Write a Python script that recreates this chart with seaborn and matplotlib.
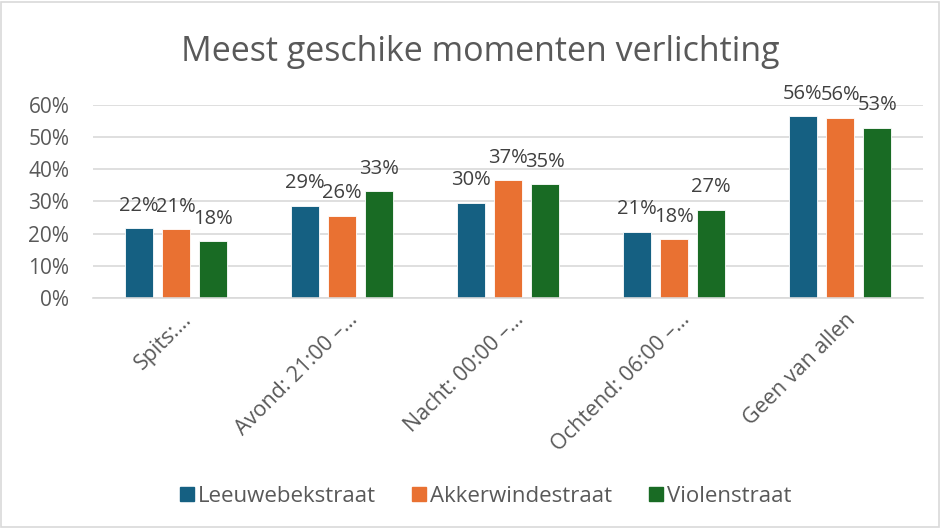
import matplotlib
matplotlib.use("Agg")
from matplotlib import pyplot as plt
from matplotlib.lines import Line2D
from matplotlib.patches import Rectangle
from matplotlib.transforms import ScaledTranslation
import seaborn as sns
import pandas as pd

categories = ["Spits:…", "Avond: 21:00 –…", "Nacht: 00:00 –…", "Ochtend: 06:00 –…", "Geen van allen"]
streets = ["Leeuwebekstraat", "Akkerwindestraat", "Violenstraat"]
leeuwebek = [0.217, 0.286, 0.296, 0.206, 0.564]
akkerwinde = [0.214, 0.256, 0.366, 0.183, 0.559]
violen = [0.176, 0.332, 0.353, 0.274, 0.529]
colors = ["#156082", "#E97132", "#196B24"]

rows = []
for street, vals in zip(streets, [leeuwebek, akkerwinde, violen]):
    for cat, v in zip(categories, vals):
        rows.append({"categorie": cat, "straat": street, "waarde": v})
df = pd.DataFrame(rows)

sns.set_theme(style="white")
plt.rcParams["font.family"] = ["Open Sans", "DejaVu Sans"]
text_grey = "#595959"

fig = plt.figure(figsize=(9.42, 5.29), dpi=100)
ax = fig.add_axes([0.0987, 0.4367, 0.8813, 0.3653])

sns.barplot(data=df, x="categorie", y="waarde", hue="straat", order=categories,
            hue_order=streets, palette=colors, saturation=1, width=0.67, gap=0.24,
            edgecolor="white", linewidth=0.6, ax=ax, legend=False)

for cont in ax.containers:
    ax.bar_label(cont, labels=[f"{b.get_height() * 100:.0f}%" for b in cont],
                 padding=9, fontsize=14.5, color="#404040")

ax.set_ylim(0, 0.6)
ax.set_yticks([0, 0.1, 0.2, 0.3, 0.4, 0.5, 0.6])
ax.set_yticklabels([f"{int(round(t * 100))}%" for t in ax.get_yticks()], fontsize=15, color=text_grey)
ax.yaxis.grid(True, color="#D9D9D9", linewidth=1.2)
ax.set_axisbelow(True)
ax.tick_params(axis="y", length=0, pad=17)
ax.tick_params(axis="x", length=0, pad=8)
ax.set_xticks(range(len(categories)))
ax.set_xticklabels(categories, rotation=45, ha="right", va="top",
                   rotation_mode="anchor", fontsize=15.5, color=text_grey)
shift = ScaledTranslation(5 / 100, 0, fig.dpi_scale_trans)
for lbl in ax.get_xticklabels():
    lbl.set_transform(lbl.get_transform() + shift)
ax.set_xlabel("")
ax.set_ylabel("")
ax.set_xlim(-0.5, len(categories) - 0.5)
for side in ["top", "right", "left"]:
    ax.spines[side].set_visible(False)
ax.spines["bottom"].set_color("#D9D9D9")
ax.spines["bottom"].set_linewidth(1.2)

fig.text(0.510, 0.8847, "Meest geschike momenten verlichting", ha="center", va="baseline",
         fontsize=24.5, color=text_grey)

handles = [Line2D([], [], marker="s", linestyle="", markersize=9.4, color=c) for c in colors]
fig.legend(handles, streets, loc="center", bbox_to_anchor=(0.515, 0.061), ncol=3,
           frameon=False, fontsize=16, labelcolor=text_grey, handletextpad=0.15,
           columnspacing=1.6, handlelength=0.7)

fig.patches.append(Rectangle((0.001, 0.003), 0.996, 0.994, transform=fig.transFigure,
                             fill=False, edgecolor="#D9D9D9", linewidth=1.2))

fig.savefig("out.png", dpi=100)
